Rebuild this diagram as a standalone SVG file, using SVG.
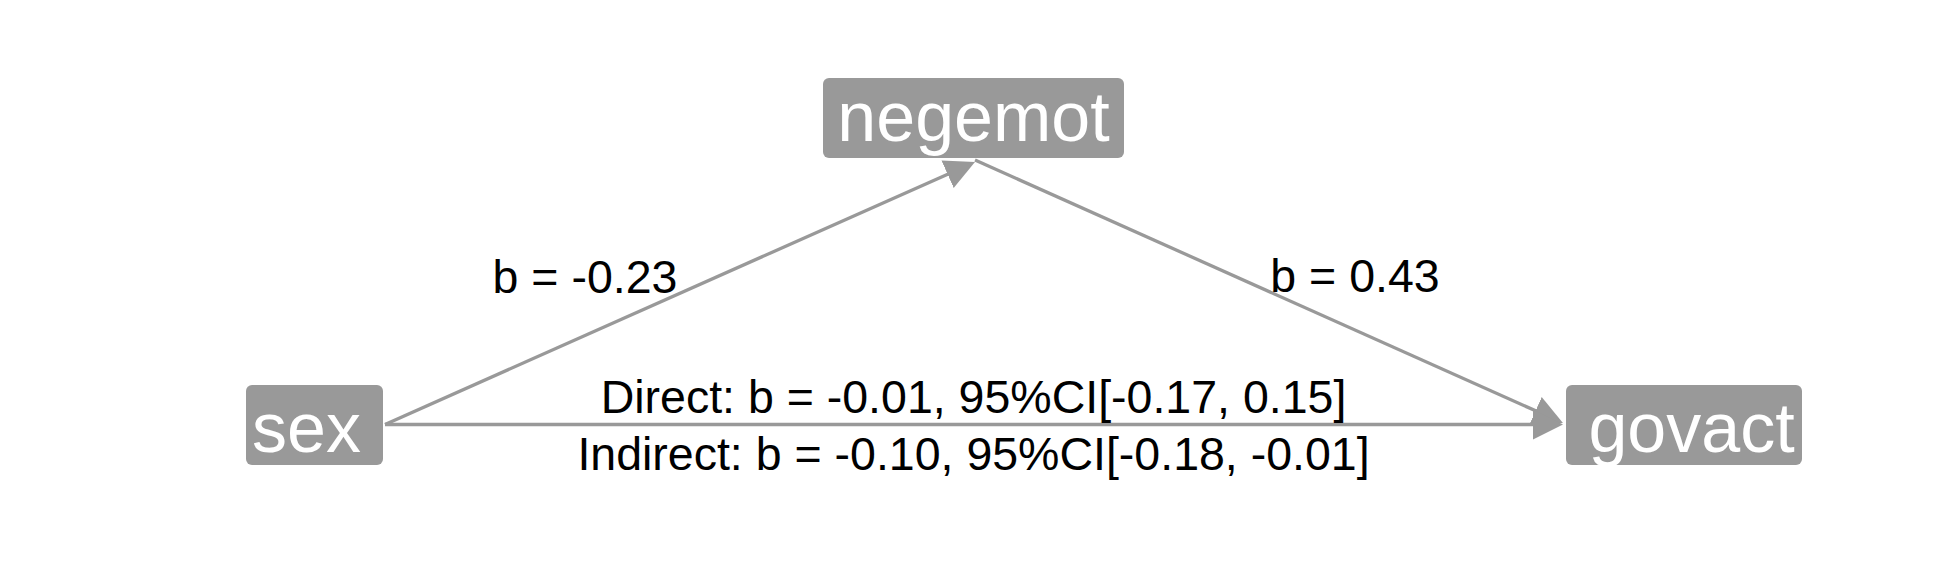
<svg xmlns="http://www.w3.org/2000/svg" width="1950" height="585" viewBox="0 0 1950 585">
<style>
.box{fill:#999999;}
.ntext{font-family:"Liberation Sans",Arial,sans-serif;fill:#ffffff;text-anchor:middle;}
.edge{stroke:#999999;stroke-width:3.3;fill:none;}
.lbl{font-family:"Liberation Sans",Arial,sans-serif;font-size:46.5px;fill:#000000;text-anchor:middle;}
</style>
<defs>
<marker id="arr" markerUnits="userSpaceOnUse" viewBox="0 -15 30 30" refX="2" refY="0" markerWidth="30" markerHeight="30" orient="auto">
<path d="M0,-15 L30,0 L0,15 z" fill="#999999"/>
</marker>
</defs>
<rect width="1950" height="585" fill="#ffffff"/>
<g id="connectors">
<line class="edge" x1="385" y1="424.5" x2="949.4" y2="173.4" marker-end="url(#arr)"/>
<line class="edge" x1="975" y1="160" x2="1537.4" y2="411.6" marker-end="url(#arr)"/>
<line class="edge" x1="385" y1="424.5" x2="1535" y2="424.5" marker-end="url(#arr)"/>
<text class="lbl" x="585" y="293">b = -0.23</text>
<text class="lbl" x="1355" y="292">b = 0.43</text>
<text class="lbl" x="973.5" y="413">Direct: b = -0.01, 95%CI[-0.17, 0.15]</text>
<text class="lbl" x="973.5" y="470">Indirect: b = -0.10, 95%CI[-0.18, -0.01]</text>
</g>
<g id="node-negemot">
<rect class="box" x="823" y="78" width="301" height="80" rx="6"/>
<text class="ntext" x="973.5" y="141" font-size="70">negemot</text>
</g>
<g id="node-sex">
<rect class="box" x="246" y="385" width="137" height="80" rx="6"/>
<text class="ntext" x="306.5" y="452" font-size="70">sex</text>
</g>
<g id="node-govact">
<rect class="box" x="1566" y="385" width="236" height="80" rx="6"/>
<text class="ntext" x="1691.5" y="452" font-size="70">govact</text>
</g>
</svg>
